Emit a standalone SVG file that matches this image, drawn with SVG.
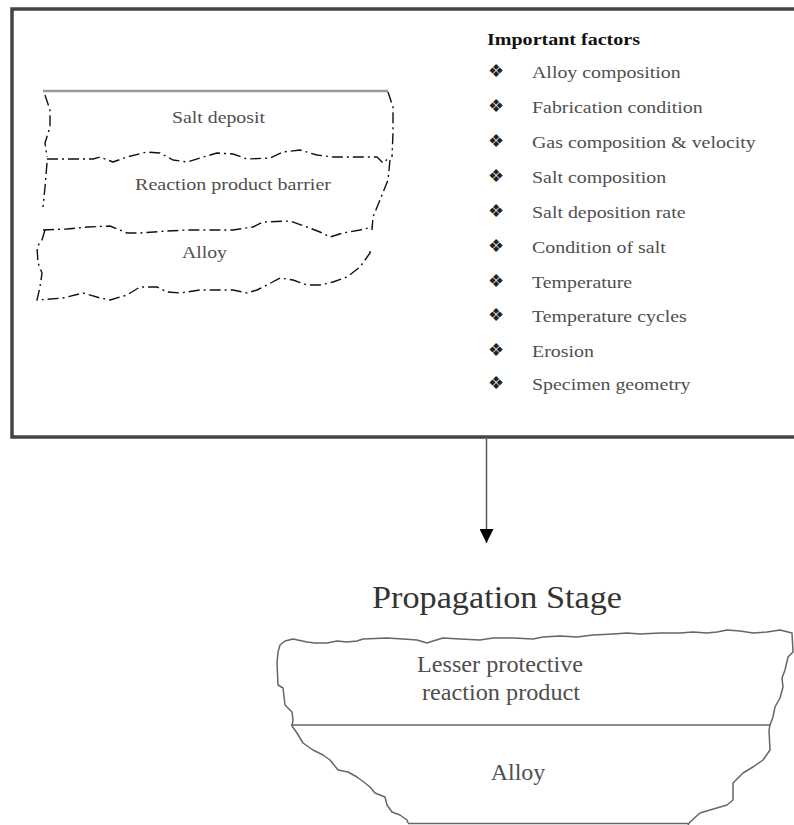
<svg xmlns="http://www.w3.org/2000/svg" width="794" height="825" viewBox="0 0 794 825">
<style>
.t{font-family:"Liberation Serif","Times New Roman",serif;fill:#4f4f4f}
.s{font-size:17px}
.b{font-family:"DejaVu Sans",sans-serif;font-size:18px;fill:#222;text-anchor:middle}
.dash{fill:none;stroke:#111;stroke-width:1.4;stroke-dasharray:11 4 2 4;stroke-linejoin:round}
.rough{fill:none;stroke:#666;stroke-width:1.5;stroke-linejoin:round}
</style>
<defs>
<marker id="ah" markerWidth="14" markerHeight="14" refX="7" refY="14" orient="0" markerUnits="userSpaceOnUse">
<path d="M0,0 L14,0 L7,14 Z" fill="#000"/>
</marker>
</defs>
<rect width="794" height="825" fill="#fff"/>
<g id="initiation-box">
<path d="M900,9 L12,9 L12,437 L900,437" fill="none" stroke="#444" stroke-width="3.5"/>
</g>
<g id="layers-top">
<line x1="43" y1="91" x2="388" y2="91" stroke="#999" stroke-width="2.5"/>
<path class="dash" d="M45,95 L50,110 L50,127 L45,143 L47,157"/>
<path class="dash" d="M388,92 L393,107 L393,133 L392,157"/>
<path class="dash" d="M47,159 L93,159 L100,157 L113,162 L127,157 L147,152 L160,153 L173,160 L187,162 L200,158 L217,153 L233,154 L247,159 L270,158 L283,152 L300,150 L317,155 L333,157 L353,157 L377,157 L383,163 L390,157"/>
<path class="dash" d="M47,163 L45,187 L43,207"/>
<path class="dash" d="M390,160 L388,180 L380,200 L373,217 L372,230"/>
<path class="dash" d="M43,230 L67,229 L87,227 L110,226 L127,233 L140,233 L167,231 L187,230 L213,230 L233,230 L253,227 L263,222 L290,221 L307,227 L320,232 L330,237 L343,233 L360,230 L372,227"/>
<path class="dash" d="M45,230 L42,240 L37,247 L38,263 L42,273 L40,287 L37,300 L63,298 L83,293 L100,298 L110,300 L127,295 L140,287 L157,287 L167,292 L180,293 L200,290 L233,290 L247,293 L257,290 L267,285 L280,278 L293,280 L307,285 L320,285 L333,282 L347,277 L360,267 L370,253 L370,247"/>
<text class="t s" x="172" y="123" textLength="93" lengthAdjust="spacingAndGlyphs">Salt deposit</text>
<text class="t s" x="135" y="190" textLength="196" lengthAdjust="spacingAndGlyphs">Reaction product barrier</text>
<text class="t s" x="182" y="258" textLength="45" lengthAdjust="spacingAndGlyphs">Alloy</text>
</g>
<g id="factors">
<text class="t s" x="487" y="45" font-weight="bold" style="fill:#111" textLength="153" lengthAdjust="spacingAndGlyphs">Important factors</text>
<g class="b">
<text x="496" y="77">❖</text>
<text x="496" y="112">❖</text>
<text x="496" y="147">❖</text>
<text x="496" y="182">❖</text>
<text x="496" y="217">❖</text>
<text x="496" y="252">❖</text>
<text x="496" y="287">❖</text>
<text x="496" y="321">❖</text>
<text x="496" y="356">❖</text>
<text x="496" y="389">❖</text>
</g>
<g transform="translate(532 0) scale(1.17 1)">
<text class="t s" x="0" y="78">Alloy composition</text>
<text class="t s" x="0" y="113">Fabrication condition</text>
<text class="t s" x="0" y="148">Gas composition &amp; velocity</text>
<text class="t s" x="0" y="183">Salt composition</text>
<text class="t s" x="0" y="218">Salt deposition rate</text>
<text class="t s" x="0" y="253">Condition of salt</text>
<text class="t s" x="0" y="288">Temperature</text>
<text class="t s" x="0" y="322">Temperature cycles</text>
<text class="t s" x="0" y="357">Erosion</text>
<text class="t s" x="0" y="390">Specimen geometry</text>
</g>
</g>
<g id="connectors">
<line x1="486.5" y1="439" x2="486.5" y2="543" stroke="#555" stroke-width="1.5" marker-end="url(#ah)"/>
</g>
<g id="propagation-title">
<text class="t" x="497" y="608" font-size="32" text-anchor="middle" style="fill:#333" textLength="250" lengthAdjust="spacingAndGlyphs">Propagation Stage</text>
</g>
<g id="propagation-layers">
<path class="rough" d="M278,652 L280,645 L285,641 L293,639 L307,642 L315,643 L327,643 L337,641 L347,642 L357,641 L363,639 L387,638 L403,639 L417,640 L427,643 L433,641 L443,638 L460,639 L480,640 L493,638 L513,638 L533,639 L543,637 L560,636 L577,637 L593,635 L613,634 L627,633 L640,634 L660,633 L680,633 L693,632 L707,633 L717,632 L727,630 L740,631 L753,633 L767,632 L780,630 L792,633 L793,652 L788,657 L785,670 L782,678 L783,687 L780,698 L775,707 L773,717 L770,725 L769,730 L770,750 L763,760 L753,767 L743,773 L733,783 L733,800 L727,805 L710,810 L700,813 L690,822 L688,825"/>
<path class="rough" d="M278,652 L277,663 L278,685 L283,688 L285,705 L288,708 L292,712 L293,720 L292,726 L297,733 L303,743 L313,750 L323,755 L330,760 L338,770 L348,772 L357,777 L365,783 L370,787 L375,793 L385,797 L387,805 L392,812 L400,815 L407,820 L408,823"/>
<line x1="408" y1="823.5" x2="688" y2="823.5" stroke="#666" stroke-width="1.5"/>
<line x1="291" y1="725" x2="770" y2="725" stroke="#666" stroke-width="1.5"/>
<text class="t" x="500" y="672" font-size="24" text-anchor="middle" textLength="166" lengthAdjust="spacingAndGlyphs">Lesser protective</text>
<text class="t" x="501" y="700" font-size="24" text-anchor="middle" textLength="158" lengthAdjust="spacingAndGlyphs">reaction product</text>
<text class="t" x="518" y="780" font-size="24" text-anchor="middle">Alloy</text>
</g>
</svg>
